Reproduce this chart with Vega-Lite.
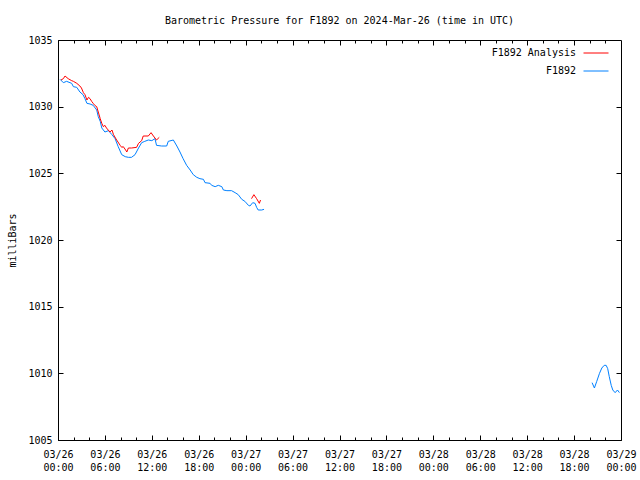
{
  "$schema": "https://vega.github.io/schema/vega-lite/v6.json",
  "width": 563,
  "height": 400,
  "autosize": {"type": "none"},
  "padding": {"left": 58, "top": 40, "right": 19, "bottom": 40},
  "background": "white",
  "title": {"text": "Barometric Pressure for F1892 on 2024-Mar-26 (time in UTC)", "font": "DejaVu Sans Mono", "fontSize": 10, "fontWeight": "normal", "color": "black", "offset": 9},
  "config": {
    "font": "DejaVu Sans Mono",
    "view": {"stroke": "black", "strokeWidth": 1},
    "axis": {"labelFont": "DejaVu Sans Mono", "labelFontSize": 10, "labelColor": "black", "titleFont": "DejaVu Sans Mono", "titleFontSize": 10, "titleFontWeight": "normal", "titleColor": "black", "domainColor": "black", "tickColor": "black", "grid": false}
  },
  "data": {"values": [
    {"t": "2024-03-26T00:16:00Z", "p": 1032.05, "s": "F1892", "g": "b1"},
    {"t": "2024-03-26T00:41:00Z", "p": 1031.8, "s": "F1892", "g": "b1"},
    {"t": "2024-03-26T01:06:00Z", "p": 1031.9, "s": "F1892", "g": "b1"},
    {"t": "2024-03-26T01:45:00Z", "p": 1031.75, "s": "F1892", "g": "b1"},
    {"t": "2024-03-26T01:58:00Z", "p": 1031.5, "s": "F1892", "g": "b1"},
    {"t": "2024-03-26T02:24:00Z", "p": 1031.45, "s": "F1892", "g": "b1"},
    {"t": "2024-03-26T02:48:00Z", "p": 1031.1, "s": "F1892", "g": "b1"},
    {"t": "2024-03-26T03:12:00Z", "p": 1030.9, "s": "F1892", "g": "b1"},
    {"t": "2024-03-26T03:27:00Z", "p": 1030.6, "s": "F1892", "g": "b1"},
    {"t": "2024-03-26T03:42:00Z", "p": 1030.25, "s": "F1892", "g": "b1"},
    {"t": "2024-03-26T04:06:00Z", "p": 1030.2, "s": "F1892", "g": "b1"},
    {"t": "2024-03-26T04:30:00Z", "p": 1030.1, "s": "F1892", "g": "b1"},
    {"t": "2024-03-26T04:57:00Z", "p": 1029.75, "s": "F1892", "g": "b1"},
    {"t": "2024-03-26T05:09:00Z", "p": 1029.25, "s": "F1892", "g": "b1"},
    {"t": "2024-03-26T05:24:00Z", "p": 1028.9, "s": "F1892", "g": "b1"},
    {"t": "2024-03-26T05:36:00Z", "p": 1028.4, "s": "F1892", "g": "b1"},
    {"t": "2024-03-26T06:00:00Z", "p": 1028.1, "s": "F1892", "g": "b1"},
    {"t": "2024-03-26T06:27:00Z", "p": 1028.2, "s": "F1892", "g": "b1"},
    {"t": "2024-03-26T06:54:00Z", "p": 1027.9, "s": "F1892", "g": "b1"},
    {"t": "2024-03-26T07:18:00Z", "p": 1027.6, "s": "F1892", "g": "b1"},
    {"t": "2024-03-26T07:42:00Z", "p": 1027.0, "s": "F1892", "g": "b1"},
    {"t": "2024-03-26T08:09:00Z", "p": 1026.4, "s": "F1892", "g": "b1"},
    {"t": "2024-03-26T08:36:00Z", "p": 1026.25, "s": "F1892", "g": "b1"},
    {"t": "2024-03-26T09:00:00Z", "p": 1026.2, "s": "F1892", "g": "b1"},
    {"t": "2024-03-26T09:24:00Z", "p": 1026.2, "s": "F1892", "g": "b1"},
    {"t": "2024-03-26T09:51:00Z", "p": 1026.4, "s": "F1892", "g": "b1"},
    {"t": "2024-03-26T10:18:00Z", "p": 1026.9, "s": "F1892", "g": "b1"},
    {"t": "2024-03-26T10:42:00Z", "p": 1027.3, "s": "F1892", "g": "b1"},
    {"t": "2024-03-26T11:06:00Z", "p": 1027.4, "s": "F1892", "g": "b1"},
    {"t": "2024-03-26T11:33:00Z", "p": 1027.5, "s": "F1892", "g": "b1"},
    {"t": "2024-03-26T12:00:00Z", "p": 1027.45, "s": "F1892", "g": "b1"},
    {"t": "2024-03-26T12:24:00Z", "p": 1027.6, "s": "F1892", "g": "b1"},
    {"t": "2024-03-26T12:36:00Z", "p": 1027.1, "s": "F1892", "g": "b1"},
    {"t": "2024-03-26T13:15:00Z", "p": 1027.05, "s": "F1892", "g": "b1"},
    {"t": "2024-03-26T13:54:00Z", "p": 1027.05, "s": "F1892", "g": "b1"},
    {"t": "2024-03-26T14:06:00Z", "p": 1027.4, "s": "F1892", "g": "b1"},
    {"t": "2024-03-26T14:45:00Z", "p": 1027.5, "s": "F1892", "g": "b1"},
    {"t": "2024-03-26T15:12:00Z", "p": 1027.05, "s": "F1892", "g": "b1"},
    {"t": "2024-03-26T15:36:00Z", "p": 1026.6, "s": "F1892", "g": "b1"},
    {"t": "2024-03-26T16:00:00Z", "p": 1026.1, "s": "F1892", "g": "b1"},
    {"t": "2024-03-26T16:27:00Z", "p": 1025.6, "s": "F1892", "g": "b1"},
    {"t": "2024-03-26T16:54:00Z", "p": 1025.25, "s": "F1892", "g": "b1"},
    {"t": "2024-03-26T17:18:00Z", "p": 1024.9, "s": "F1892", "g": "b1"},
    {"t": "2024-03-26T17:45:00Z", "p": 1024.7, "s": "F1892", "g": "b1"},
    {"t": "2024-03-26T18:09:00Z", "p": 1024.6, "s": "F1892", "g": "b1"},
    {"t": "2024-03-26T18:36:00Z", "p": 1024.55, "s": "F1892", "g": "b1"},
    {"t": "2024-03-26T18:48:00Z", "p": 1024.3, "s": "F1892", "g": "b1"},
    {"t": "2024-03-26T19:27:00Z", "p": 1024.25, "s": "F1892", "g": "b1"},
    {"t": "2024-03-26T19:39:00Z", "p": 1024.1, "s": "F1892", "g": "b1"},
    {"t": "2024-03-26T20:06:00Z", "p": 1024.0, "s": "F1892", "g": "b1"},
    {"t": "2024-03-26T20:30:00Z", "p": 1024.1, "s": "F1892", "g": "b1"},
    {"t": "2024-03-26T20:57:00Z", "p": 1024.0, "s": "F1892", "g": "b1"},
    {"t": "2024-03-26T21:09:00Z", "p": 1023.75, "s": "F1892", "g": "b1"},
    {"t": "2024-03-26T21:36:00Z", "p": 1023.7, "s": "F1892", "g": "b1"},
    {"t": "2024-03-26T22:12:00Z", "p": 1023.7, "s": "F1892", "g": "b1"},
    {"t": "2024-03-26T22:39:00Z", "p": 1023.55, "s": "F1892", "g": "b1"},
    {"t": "2024-03-26T23:03:00Z", "p": 1023.4, "s": "F1892", "g": "b1"},
    {"t": "2024-03-26T23:30:00Z", "p": 1023.05, "s": "F1892", "g": "b1"},
    {"t": "2024-03-26T23:54:00Z", "p": 1022.9, "s": "F1892", "g": "b1"},
    {"t": "2024-03-27T00:21:00Z", "p": 1022.6, "s": "F1892", "g": "b1"},
    {"t": "2024-03-27T00:33:00Z", "p": 1022.55, "s": "F1892", "g": "b1"},
    {"t": "2024-03-27T00:54:00Z", "p": 1022.8, "s": "F1892", "g": "b1"},
    {"t": "2024-03-27T01:12:00Z", "p": 1022.75, "s": "F1892", "g": "b1"},
    {"t": "2024-03-27T01:24:00Z", "p": 1022.45, "s": "F1892", "g": "b1"},
    {"t": "2024-03-27T01:36:00Z", "p": 1022.25, "s": "F1892", "g": "b1"},
    {"t": "2024-03-27T02:03:00Z", "p": 1022.25, "s": "F1892", "g": "b1"},
    {"t": "2024-03-27T02:21:00Z", "p": 1022.3, "s": "F1892", "g": "b1"},
    {"t": "2024-03-28T20:18:00Z", "p": 1009.3, "s": "F1892", "g": "b2"},
    {"t": "2024-03-28T20:36:00Z", "p": 1008.9, "s": "F1892", "g": "b2"},
    {"t": "2024-03-28T20:54:00Z", "p": 1009.4, "s": "F1892", "g": "b2"},
    {"t": "2024-03-28T21:15:00Z", "p": 1010.0, "s": "F1892", "g": "b2"},
    {"t": "2024-03-28T21:33:00Z", "p": 1010.4, "s": "F1892", "g": "b2"},
    {"t": "2024-03-28T21:51:00Z", "p": 1010.6, "s": "F1892", "g": "b2"},
    {"t": "2024-03-28T22:06:00Z", "p": 1010.6, "s": "F1892", "g": "b2"},
    {"t": "2024-03-28T22:18:00Z", "p": 1010.35, "s": "F1892", "g": "b2"},
    {"t": "2024-03-28T22:30:00Z", "p": 1009.75, "s": "F1892", "g": "b2"},
    {"t": "2024-03-28T22:45:00Z", "p": 1009.1, "s": "F1892", "g": "b2"},
    {"t": "2024-03-28T22:57:00Z", "p": 1008.75, "s": "F1892", "g": "b2"},
    {"t": "2024-03-28T23:15:00Z", "p": 1008.55, "s": "F1892", "g": "b2"},
    {"t": "2024-03-28T23:33:00Z", "p": 1008.75, "s": "F1892", "g": "b2"},
    {"t": "2024-03-28T23:48:00Z", "p": 1008.55, "s": "F1892", "g": "b2"},
    {"t": "2024-03-26T00:23:00Z", "p": 1032.0, "s": "F1892 Analysis", "g": "r1"},
    {"t": "2024-03-26T00:41:00Z", "p": 1032.1, "s": "F1892 Analysis", "g": "r1"},
    {"t": "2024-03-26T00:54:00Z", "p": 1032.3, "s": "F1892 Analysis", "g": "r1"},
    {"t": "2024-03-26T01:18:00Z", "p": 1032.1, "s": "F1892 Analysis", "g": "r1"},
    {"t": "2024-03-26T01:45:00Z", "p": 1031.95, "s": "F1892 Analysis", "g": "r1"},
    {"t": "2024-03-26T01:58:00Z", "p": 1031.9, "s": "F1892 Analysis", "g": "r1"},
    {"t": "2024-03-26T02:24:00Z", "p": 1031.75, "s": "F1892 Analysis", "g": "r1"},
    {"t": "2024-03-26T02:48:00Z", "p": 1031.55, "s": "F1892 Analysis", "g": "r1"},
    {"t": "2024-03-26T03:00:00Z", "p": 1031.4, "s": "F1892 Analysis", "g": "r1"},
    {"t": "2024-03-26T03:15:00Z", "p": 1031.05, "s": "F1892 Analysis", "g": "r1"},
    {"t": "2024-03-26T03:27:00Z", "p": 1030.9, "s": "F1892 Analysis", "g": "r1"},
    {"t": "2024-03-26T03:42:00Z", "p": 1030.5, "s": "F1892 Analysis", "g": "r1"},
    {"t": "2024-03-26T03:54:00Z", "p": 1030.7, "s": "F1892 Analysis", "g": "r1"},
    {"t": "2024-03-26T04:06:00Z", "p": 1030.6, "s": "F1892 Analysis", "g": "r1"},
    {"t": "2024-03-26T04:18:00Z", "p": 1030.4, "s": "F1892 Analysis", "g": "r1"},
    {"t": "2024-03-26T04:30:00Z", "p": 1030.25, "s": "F1892 Analysis", "g": "r1"},
    {"t": "2024-03-26T04:42:00Z", "p": 1030.1, "s": "F1892 Analysis", "g": "r1"},
    {"t": "2024-03-26T04:57:00Z", "p": 1030.0, "s": "F1892 Analysis", "g": "r1"},
    {"t": "2024-03-26T05:09:00Z", "p": 1029.6, "s": "F1892 Analysis", "g": "r1"},
    {"t": "2024-03-26T05:24:00Z", "p": 1029.1, "s": "F1892 Analysis", "g": "r1"},
    {"t": "2024-03-26T05:36:00Z", "p": 1028.75, "s": "F1892 Analysis", "g": "r1"},
    {"t": "2024-03-26T05:48:00Z", "p": 1028.5, "s": "F1892 Analysis", "g": "r1"},
    {"t": "2024-03-26T06:00:00Z", "p": 1028.6, "s": "F1892 Analysis", "g": "r1"},
    {"t": "2024-03-26T06:12:00Z", "p": 1028.4, "s": "F1892 Analysis", "g": "r1"},
    {"t": "2024-03-26T06:39:00Z", "p": 1028.1, "s": "F1892 Analysis", "g": "r1"},
    {"t": "2024-03-26T06:54:00Z", "p": 1028.25, "s": "F1892 Analysis", "g": "r1"},
    {"t": "2024-03-26T07:06:00Z", "p": 1027.9, "s": "F1892 Analysis", "g": "r1"},
    {"t": "2024-03-26T07:30:00Z", "p": 1027.5, "s": "F1892 Analysis", "g": "r1"},
    {"t": "2024-03-26T07:57:00Z", "p": 1027.1, "s": "F1892 Analysis", "g": "r1"},
    {"t": "2024-03-26T08:09:00Z", "p": 1026.95, "s": "F1892 Analysis", "g": "r1"},
    {"t": "2024-03-26T08:21:00Z", "p": 1027.0, "s": "F1892 Analysis", "g": "r1"},
    {"t": "2024-03-26T08:39:00Z", "p": 1026.75, "s": "F1892 Analysis", "g": "r1"},
    {"t": "2024-03-26T08:48:00Z", "p": 1026.6, "s": "F1892 Analysis", "g": "r1"},
    {"t": "2024-03-26T09:00:00Z", "p": 1026.9, "s": "F1892 Analysis", "g": "r1"},
    {"t": "2024-03-26T09:24:00Z", "p": 1026.9, "s": "F1892 Analysis", "g": "r1"},
    {"t": "2024-03-26T10:03:00Z", "p": 1026.95, "s": "F1892 Analysis", "g": "r1"},
    {"t": "2024-03-26T10:18:00Z", "p": 1027.25, "s": "F1892 Analysis", "g": "r1"},
    {"t": "2024-03-26T10:42:00Z", "p": 1027.45, "s": "F1892 Analysis", "g": "r1"},
    {"t": "2024-03-26T10:54:00Z", "p": 1027.8, "s": "F1892 Analysis", "g": "r1"},
    {"t": "2024-03-26T11:33:00Z", "p": 1027.8, "s": "F1892 Analysis", "g": "r1"},
    {"t": "2024-03-26T11:54:00Z", "p": 1028.05, "s": "F1892 Analysis", "g": "r1"},
    {"t": "2024-03-26T12:12:00Z", "p": 1027.8, "s": "F1892 Analysis", "g": "r1"},
    {"t": "2024-03-26T12:36:00Z", "p": 1027.5, "s": "F1892 Analysis", "g": "r1"},
    {"t": "2024-03-26T12:57:00Z", "p": 1027.7, "s": "F1892 Analysis", "g": "r1"},
    {"t": "2024-03-27T00:45:00Z", "p": 1023.1, "s": "F1892 Analysis", "g": "r2"},
    {"t": "2024-03-27T01:03:00Z", "p": 1023.4, "s": "F1892 Analysis", "g": "r2"},
    {"t": "2024-03-27T01:24:00Z", "p": 1023.1, "s": "F1892 Analysis", "g": "r2"},
    {"t": "2024-03-27T01:45:00Z", "p": 1022.75, "s": "F1892 Analysis", "g": "r2"},
    {"t": "2024-03-27T01:54:00Z", "p": 1023.0, "s": "F1892 Analysis", "g": "r2"}
  ]},
  "resolve": {"axis": {"x": "independent", "y": "independent"}},
  "layer": [
    {
      "mark": {"type": "line", "strokeWidth": 1},
      "encoding": {
        "x": {"field": "t", "type": "temporal",
          "scale": {"type": "utc", "domain": [1711411200000, 1711670400000], "nice": false},
          "axis": {"orient": "bottom", "title": null,
            "values": [1711411200000, 1711432800000, 1711454400000, 1711476000000, 1711497600000, 1711519200000, 1711540800000, 1711562400000, 1711584000000, 1711605600000, 1711627200000, 1711648800000, 1711670400000],
            "tickSize": -5, "labelPadding": 14, "labelLineHeight": 13, "labelBaseline": "top",
            "labelExpr": "[utcFormat(datum.value, '%m/%d'), utcFormat(datum.value, '%H:%M')]",
            "labelFlush": false, "labelOverlap": false}},
        "y": {"field": "p", "type": "quantitative",
          "scale": {"domain": [1005, 1035], "nice": false, "zero": false},
          "axis": {"orient": "left", "title": "milliBars", "format": "d", "values": [1005, 1010, 1015, 1020, 1025, 1030, 1035], "tickSize": -5, "labelPadding": 11, "titlePadding": 10}},
        "color": {"field": "s", "type": "nominal",
          "scale": {"domain": ["F1892 Analysis", "F1892"], "range": ["#ff0000", "#0080ff"]},
          "legend": {"orient": "none", "legendX": 525, "legendY": 0, "title": null, "symbolType": "stroke", "symbolSize": 625, "symbolStrokeWidth": 1, "labelAlign": "right", "labelOffset": -33, "labelFont": "DejaVu Sans Mono", "labelFontSize": 10, "labelColor": "black", "rowPadding": 0, "padding": 0}},
        "detail": {"field": "g"}
      }
    },
    {
      "mark": {"type": "line", "strokeWidth": 1, "opacity": 0},
      "encoding": {
        "x": {"field": "t", "type": "temporal",
          "axis": {"orient": "bottom", "title": null, "labels": false, "domain": false, "tickSize": -3,
            "values": [1711418400000, 1711425600000, 1711440000000, 1711447200000, 1711461600000, 1711468800000, 1711483200000, 1711490400000, 1711504800000, 1711512000000, 1711526400000, 1711533600000, 1711548000000, 1711555200000, 1711569600000, 1711576800000, 1711591200000, 1711598400000, 1711612800000, 1711620000000, 1711634400000, 1711641600000, 1711656000000, 1711663200000]}},
        "y": {"field": "p", "type": "quantitative",
          "axis": {"orient": "right", "title": null, "labels": false, "domain": false, "tickSize": -5, "values": [1010, 1015, 1020, 1025, 1030]}},
        "detail": {"field": "g"}
      }
    },
    {
      "mark": {"type": "line", "strokeWidth": 1, "opacity": 0},
      "encoding": {
        "x": {"field": "t", "type": "temporal",
          "axis": {"orient": "top", "title": null, "labels": false, "domain": false, "tickSize": -5,
            "values": [1711432800000, 1711454400000, 1711476000000, 1711497600000, 1711519200000, 1711540800000, 1711562400000, 1711584000000, 1711605600000, 1711627200000, 1711648800000]}},
        "y": {"field": "p", "type": "quantitative", "axis": null},
        "detail": {"field": "g"}
      }
    },
    {
      "mark": {"type": "line", "strokeWidth": 1, "opacity": 0},
      "encoding": {
        "x": {"field": "t", "type": "temporal",
          "axis": {"orient": "top", "title": null, "labels": false, "domain": false, "tickSize": -3,
            "values": [1711418400000, 1711425600000, 1711440000000, 1711447200000, 1711461600000, 1711468800000, 1711483200000, 1711490400000, 1711504800000, 1711512000000, 1711526400000, 1711533600000, 1711548000000, 1711555200000, 1711569600000, 1711576800000, 1711591200000, 1711598400000, 1711612800000, 1711620000000, 1711634400000, 1711641600000, 1711656000000, 1711663200000]}},
        "y": {"field": "p", "type": "quantitative", "axis": null},
        "detail": {"field": "g"}
      }
    }
  ]
}
